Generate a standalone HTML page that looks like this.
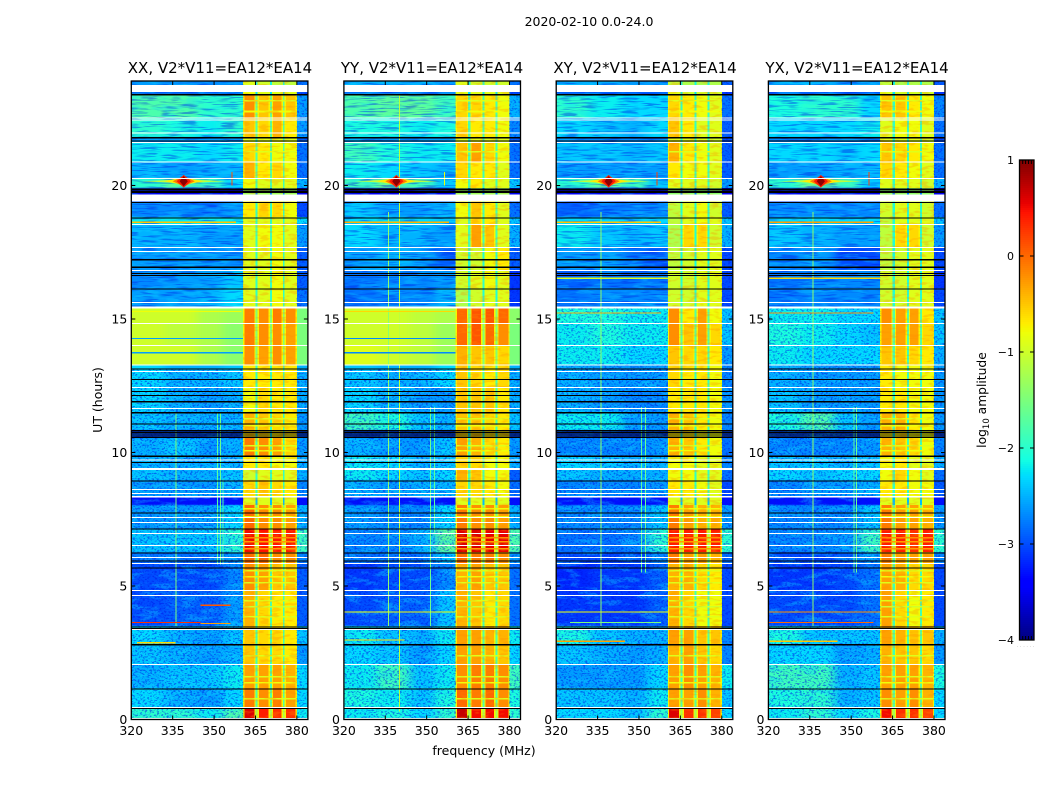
<!DOCTYPE html>
<html lang="en">
<head>
<meta charset="utf-8">
<title>2020-02-10 0.0-24.0 dynamic spectra</title>
<style>
html,body{margin:0;padding:0;background:#fff;width:1050px;height:800px;overflow:hidden}
svg{display:block}
text{font-family:"DejaVu Sans","Liberation Sans",sans-serif;fill:#000}
</style>
</head>
<body>
<svg id="figure" width="1050" height="800" viewBox="0 0 1050 800" xmlns="http://www.w3.org/2000/svg">
  <defs>
    <filter id="bgBlur" color-interpolation-filters="sRGB">
      <feGaussianBlur stdDeviation="5 0.4"/>
    </filter>
    <filter id="grainSpeckle" x="0" y="0" width="100%" height="100%" color-interpolation-filters="sRGB">
      <feTurbulence type="fractalNoise" baseFrequency="0.42 0.6" numOctaves="2" seed="7"/>
      <feColorMatrix type="matrix" values="0 0 0 0 0  0 0 0 0 0.08  0 0 0 0 0.9  7 0 0 0 -3.6"/>
    </filter>
    <filter id="grainStreak" x="0" y="0" width="100%" height="100%" color-interpolation-filters="sRGB">
      <feTurbulence type="fractalNoise" baseFrequency="0.05 0.7" numOctaves="2" seed="4"/>
      <feColorMatrix type="matrix" values="0 0 0 0 0  0 0 0 0 0.12  0 0 0 0 0.9  7 0 0 0 -3.6"/>
    </filter>
    <filter id="grainCyan" x="0" y="0" width="100%" height="100%" color-interpolation-filters="sRGB">
      <feTurbulence type="fractalNoise" baseFrequency="0.05 0.18" numOctaves="3" seed="21"/>
      <feColorMatrix type="matrix" values="0 0 0 0 0.05  0 0 0 0 0.85  0 0 0 0 1  6 0 0 0 -3"/>
    </filter>
    <filter id="grainWarm" x="0" y="0" width="100%" height="100%" color-interpolation-filters="sRGB">
      <feTurbulence type="fractalNoise" baseFrequency="0.1 0.35" numOctaves="2" seed="12"/>
      <feColorMatrix type="matrix" values="0 0 0 0 1  0 0 0 0 0.55  0 0 0 0 0  6 0 0 0 -3"/>
    </filter>
  </defs>

  <text x="589" y="26" font-size="12.5" text-anchor="middle">2020-02-10 0.0-24.0</text>

  <g id="panels"></g>

  <text x="220" y="73" font-size="15" text-anchor="middle">XX, V2*V11=EA12*EA14</text>
  <text x="432" y="73" font-size="15" text-anchor="middle">YY, V2*V11=EA12*EA14</text>
  <text x="645" y="73" font-size="15" text-anchor="middle">XY, V2*V11=EA12*EA14</text>
  <text x="857" y="73" font-size="15" text-anchor="middle">YX, V2*V11=EA12*EA14</text>

  <text x="484" y="755" font-size="12.5" text-anchor="middle">frequency (MHz)</text>
  <text x="102" y="400" font-size="12.5" text-anchor="middle" transform="rotate(-90 102 400)">UT (hours)</text>
  <text x="986" y="400" font-size="12.3" text-anchor="middle" transform="rotate(-90 986 400)">log<tspan font-size="8.5" dy="3">10</tspan><tspan dy="-3"> amplitude</tspan></text>

  <g id="colorbar"></g>
</svg>

<script>
// Frequency and time axes
const freqTicks = [320, 335, 350, 365, 380];
const hourTicks = [0, 5, 10, 15, 20];
const colorbarTicks = [1, 0, -1, -2, -3, -4];
const colorbarTickLabels = ['1', '0', '\u22121', '\u22122', '\u22123', '\u22124'];
const polarizations = ['xx', 'yy', 'xy', 'yx'];

// Channel groups in MHz; a row holds [bg1,bg2,bg3,bg4,block1,block2,block3,block4,gap,tail]
const freqEdges = [320, 332, 344, 353, 360.5, 365, 365.8, 370.2, 370.9, 374.9, 375.6, 380, 384];
const columnValueIndex = [0, 1, 2, 3, 4, 8, 5, 8, 6, 8, 7, 9];

// Time-band edges in UT hours, descending
const bandEdges = [23.91,23.76,23.5,23.43,22.53,21.82,21.59,20.88,20.28,19.91,19.68,19.4,18.82,18.54,17.7,16.84,16.16,15.45,14.85,14.03,13.28,12.42,11.52,10.84,10.54,9.87,9.38,8.97,8.33,8.03,7.13,6.27,5.86,4.85,3.5,2.83,2.08,1.18,0.43,0];

// log10 amplitude per time band
const levelsXX = [
[-2.6,-2.6,-2.7,-2.6,-1,-1.1,-1.2,-1.2,-1.9,-2.8],
[-2.6,-2.6,-2.7,-2.6,-1,-1.1,-1.2,-1.2,-1.9,-2.8],
[-2.9,-2.9,-2.9,-2.9,-0.9,-1,-1,-1,-2,-3],
[-1.8,-1.8,-2,-2,-0.3,-0.6,-0.4,-0.6,-1.4,-2.6],
[-2,-2.1,-2.2,-2,-0.6,-0.7,-0.5,-0.8,-1.5,-2.6],
[-2.6,-2.6,-2.6,-2.6,-1,-1,-1,-1,-1.8,-2.9],
[-2.2,-2.2,-2.3,-2.2,-0.7,-0.8,-0.9,-0.9,-1.5,-2.8],
[-2.5,-2.6,-2.5,-2.5,-0.5,-0.8,-0.7,-0.9,-1.5,-2.8],
[-2,-1.7,-1.9,-2.3,-0.9,-1,-1,-1,-1.6,-2.5],
[-3.5,-3.5,-3.5,-3.5,-1.4,-1.4,-1.4,-1.4,-2.5,-3.5],
[-3.5,-3.5,-3.5,-3.5,-1.4,-1.4,-1.4,-1.4,-2.5,-3.5],
[-2.7,-2.7,-2.8,-2.6,-0.8,-0.7,-0.7,-0.9,-1.7,-3],
[-2.2,-2.2,-2.2,-2.2,-1,-1,-1,-1,-1.7,-2.3],
[-2.5,-2.5,-2.6,-2.6,-1,-0.9,-0.9,-1,-1.6,-2.6],
[-2.6,-2.6,-2.6,-2.7,-1,-1,-0.9,-1,-1.7,-2.9],
[-2.7,-2.6,-2.6,-2.4,-1,-1,-0.9,-1,-1.7,-2.9],
[-2.6,-2.6,-2.5,-2.3,-1,-1,-0.9,-1,-1.7,-2.8],
[-1,-1,-1.2,-1.3,-0.2,-0.3,-0.2,-0.3,-1.2,-1.5],
[-1,-1.1,-1.2,-1.4,-0.2,-0.3,-0.3,-0.4,-1.2,-1.5],
[-1,-1,-1.2,-1.4,-0.3,-0.4,-0.3,-0.4,-1.2,-1.5],
[-2.3,-2.5,-2.5,-2.4,-0.8,-0.8,-0.8,-0.8,-1.7,-2.5],
[-2.3,-2.5,-2.6,-2.5,-0.9,-0.7,-0.8,-0.8,-1.7,-2.5],
[-2.4,-2.5,-2.5,-2.5,-0.5,-0.6,-0.7,-0.8,-1.7,-2.6],
[-3,-3,-3,-3,-0.7,-0.7,-0.8,-0.8,-2,-3],
[-2.5,-2.4,-2.6,-2.5,-0.2,-0.3,-0.4,-0.7,-1.6,-2.6],
[-2.5,-2.5,-2.5,-2.5,-0.8,-0.8,-0.9,-0.9,-1.6,-2.5],
[-2.4,-2.5,-2.5,-2.4,-1.1,-1,-1,-1,-1.7,-2.5],
[-2.6,-2.6,-2.6,-2.5,-0.7,-0.6,-0.7,-0.8,-1.7,-2.7],
[-3.3,-3.3,-3.3,-3.3,-1,-1,-1,-1,-2.2,-3.3],
[-2.6,-2.6,-2.6,-2.3,-0.1,-0.3,-0.3,-0.4,-1.3,-2.5],
[-2.4,-2.4,-2.4,-2,0.4,0.35,0.35,0.3,-1,-1.9],
[-2.8,-2.8,-2.8,-2.6,-0.1,-0.1,-0.3,-0.3,-1.5,-2.7],
[-3,-3,-3,-2.7,-0.3,-0.4,-0.6,-0.6,-1.6,-2.9],
[-3,-2.9,-2.9,-2.6,-0.5,-0.7,-0.8,-0.8,-1.6,-2.9],
[-2.3,-2.5,-2.6,-2.4,-0.6,-0.7,-0.7,-0.8,-1.6,-2.4],
[-2.4,-2.5,-2.6,-2.5,-0.6,-0.7,-0.7,-0.8,-1.6,-2.6],
[-2.5,-2.4,-2.4,-2.2,-0.4,-0.4,-0.4,-0.5,-1.6,-2.3],
[-2.3,-2.5,-2.6,-2.3,-0.2,-0.3,-0.2,-0.4,-1.5,-2.3],
[-2,-2,-2.2,-1.8,0.5,0.3,0.2,0.2,-1,-2.2]
];
const levelsYY = [
[-2.5,-2.5,-2.5,-2.6,-1,-1.1,-1.1,-1.1,-1.8,-2.8],
[-2.5,-2.5,-2.5,-2.6,-1,-1.1,-1.1,-1.1,-1.8,-2.8],
[-2.9,-2.9,-2.9,-2.9,-1,-1,-1,-1,-2,-3],
[-1.8,-1.7,-1.7,-1.9,-0.7,-0.7,-0.8,-0.9,-1.6,-2.5],
[-2.1,-2.1,-2.2,-2.1,-0.7,-0.8,-0.8,-0.9,-1.6,-2.7],
[-2.5,-2.6,-2.6,-2.6,-1,-1,-1,-1,-1.8,-2.9],
[-1.9,-2.1,-2.2,-2.2,-0.6,-0.4,-0.7,-0.9,-1.6,-2.8],
[-2.2,-2.3,-2.4,-2.5,-0.7,-0.8,-0.8,-1,-1.6,-2.8],
[-1.9,-1.6,-1.9,-2.4,-0.9,-0.8,-1,-1,-1.6,-2.4],
[-3.5,-3.5,-3.5,-3.5,-1.4,-1.4,-1.4,-1.4,-2.5,-3.5],
[-3.5,-3.5,-3.5,-3.5,-1.4,-1.4,-1.4,-1.4,-2.5,-3.5],
[-2.4,-2.6,-2.6,-2.5,-0.9,-0.6,-0.8,-1,-1.6,-2.8],
[-2.3,-2.2,-2.3,-2.4,-1,-0.7,-0.8,-1,-1.6,-2.4],
[-2.3,-2.5,-2.5,-2.6,-1,-0.4,-0.6,-1,-1.6,-2.5],
[-2.6,-2.5,-2.6,-2.9,-1.1,-1.1,-0.9,-0.8,-1.8,-2.9],
[-2.8,-2.7,-2.7,-2.6,-1.1,-1,-0.9,-1,-1.7,-3.1],
[-2.8,-2.7,-2.7,-2.5,-1.3,-1.1,-1,-1,-1.8,-3.1],
[-1,-1,-1.1,-1.2,-0.1,0,0,-0.1,-1.2,-1.4],
[-1,-1,-1.1,-1.3,-0.1,0,-0.1,-0.3,-1.2,-1.5],
[-0.9,-1,-1.1,-1.3,-0.5,-0.6,-0.6,-0.7,-1.2,-1.5],
[-2.4,-2.5,-2.5,-2.3,-0.6,-0.7,-0.8,-0.7,-1.6,-2.5],
[-2.3,-2.5,-2.6,-2.6,-0.6,-0.6,-0.6,-0.8,-1.6,-2.5],
[-1.9,-2.1,-2.4,-2.5,-0.6,-0.6,-0.7,-0.8,-1.6,-2.4],
[-3,-3,-3,-3,-0.7,-0.7,-0.8,-0.8,-2,-3],
[-2.5,-2.6,-2.6,-2.4,-0.4,-0.5,-0.7,-0.8,-1.6,-2.6],
[-2.2,-2.3,-2.5,-2.4,-0.7,-0.7,-0.9,-0.9,-1.6,-2.5],
[-2.2,-2.3,-2.4,-2.3,-0.5,-0.6,-0.9,-0.9,-1.6,-2.9],
[-2.5,-2.6,-2.5,-2.5,-0.7,-0.7,-0.8,-0.9,-1.6,-2.8],
[-3.3,-3.3,-3.3,-3.3,-1,-1,-1,-1,-2.2,-3.3],
[-2.6,-2.7,-2.7,-2.3,-0.2,-0.3,-0.3,-0.4,-1.3,-2.5],
[-2.7,-2.7,-2.5,-1.7,0.5,0.5,0.45,0.45,-1,-1.8],
[-2.8,-2.8,-2.8,-2.4,-0.1,-0.2,-0.2,-0.3,-1.5,-2.6],
[-3.1,-3,-3,-2.7,-0.5,-0.4,-0.6,-0.6,-1.6,-2.8],
[-3,-2.9,-2.9,-2.4,-0.5,-0.6,-0.8,-0.7,-1.6,-2.8],
[-2.2,-2.4,-2.5,-2.2,-0.4,-0.4,-0.5,-0.5,-1.5,-2.2],
[-2.3,-2.4,-2.6,-2.3,-0.4,-0.4,-0.5,-0.6,-1.6,-2.3],
[-2.2,-1.9,-2.4,-2.2,-0.3,-0.2,-0.2,-0.3,-1.5,-1.9],
[-2.1,-2.2,-2.4,-2.1,-0.1,-0.2,-0.1,-0.3,-1.5,-2.1],
[-2.2,-2.1,-2.3,-2,0.6,0.4,0.4,0.4,-1,-2]
];
const levelsXY = [
[-2.5,-2.5,-2.6,-2.6,-1.2,-1.3,-1.3,-1.3,-1.9,-2.9],
[-2.5,-2.5,-2.6,-2.6,-1.2,-1.3,-1.3,-1.3,-1.9,-2.9],
[-3,-3,-3,-3,-1,-1.1,-1.1,-1.1,-2,-3.1],
[-2,-2.2,-2.3,-2.3,-0.7,-0.8,-0.9,-1,-1.7,-2.8],
[-2.3,-2.4,-2.5,-2.3,-0.6,-0.8,-1,-1,-1.7,-2.9],
[-2.7,-2.7,-2.7,-2.7,-1,-1,-1,-1.1,-1.8,-3],
[-2.4,-2.4,-2.5,-2.4,-0.5,-0.8,-0.9,-1,-1.7,-2.9],
[-2.6,-2.6,-2.6,-2.6,-0.8,-0.9,-0.9,-1,-1.7,-2.9],
[-2,-1.7,-1.9,-2.4,-1,-1,-1,-1.1,-1.7,-2.6],
[-3.5,-3.5,-3.5,-3.5,-1.5,-1.5,-1.5,-1.5,-2.5,-3.5],
[-3.5,-3.5,-3.5,-3.5,-1.5,-1.5,-1.5,-1.5,-2.5,-3.5],
[-2.9,-2.8,-2.7,-2.7,-1.2,-1,-0.9,-1.1,-1.8,-2.9],
[-2.3,-2.3,-2.3,-2.3,-1.2,-1,-0.9,-1,-1.8,-2.4],
[-2.2,-2.4,-2.5,-2.4,-1.3,-0.7,-0.7,-1.1,-1.8,-2.5],
[-2.6,-2.6,-2.8,-2.9,-1.2,-1.1,-1,-1,-1.9,-3],
[-2.9,-2.8,-2.8,-2.8,-1.1,-1.1,-1,-1,-1.8,-3],
[-2.8,-2.7,-2.7,-2.7,-1.1,-1.1,-1,-1,-1.8,-3],
[-2.1,-2.1,-2.2,-2.2,-0.3,-0.8,-0.4,-0.9,-1.5,-2.4],
[-2.2,-2.1,-2.2,-2.2,-0.3,-0.6,-0.4,-0.7,-1.5,-2.4],
[-2.2,-2.2,-2.3,-2.3,-0.6,-0.7,-0.7,-0.8,-1.6,-2.6],
[-2.5,-2.6,-2.6,-2.6,-0.7,-0.8,-0.8,-0.9,-1.7,-2.7],
[-2.5,-2.6,-2.7,-2.7,-0.8,-0.8,-0.8,-0.9,-1.7,-2.6],
[-2.2,-2.2,-2.6,-2.6,-0.5,-0.6,-0.8,-0.9,-1.7,-2.7],
[-3,-3,-3,-3,-0.8,-0.8,-0.9,-0.9,-2,-3],
[-2.7,-2.7,-2.7,-2.6,-0.5,-0.6,-0.8,-0.9,-1.7,-2.8],
[-2.3,-2.4,-2.5,-2.5,-0.9,-0.9,-1,-1,-1.7,-2.7],
[-2.4,-2.5,-2.5,-2.5,-0.9,-0.9,-1,-1,-1.7,-2.8],
[-2.7,-2.7,-2.7,-2.6,-0.8,-0.8,-0.9,-1,-1.7,-3],
[-3.3,-3.3,-3.3,-3.3,-1,-1,-1,-1,-2.2,-3.3],
[-2.7,-2.7,-2.7,-2.4,-0.2,-0.4,-0.5,-0.5,-1.4,-2.6],
[-2.8,-2.8,-2.7,-2,0.3,0.3,0.3,0.3,-1,-2],
[-3,-3,-3,-2.7,-0.2,-0.4,-0.4,-0.5,-1.5,-2.8],
[-3.2,-3.1,-3.1,-2.9,-0.5,-0.5,-0.7,-0.8,-1.6,-3],
[-3.1,-3.1,-3.1,-2.9,-0.5,-0.7,-0.9,-0.9,-1.6,-3],
[-2.1,-2.4,-2.5,-2.5,-0.4,-0.4,-0.6,-0.6,-1.5,-2.7],
[-2.4,-2.5,-2.6,-2.5,-0.5,-0.4,-0.6,-0.7,-1.6,-2.7],
[-2.6,-2.6,-2.6,-2.3,-0.4,-0.3,-0.4,-0.5,-1.6,-2.2],
[-2.4,-2.4,-2.5,-2.2,-0.4,-0.4,-0.3,-0.5,-1.5,-2.4],
[-2.3,-2.3,-2.4,-2,0.5,0.2,0.2,0.1,-1,-2.3]
];
const levelsYX = [
[-2.5,-2.5,-2.6,-2.6,-1.2,-1.3,-1.3,-1.3,-1.9,-2.9],
[-2.5,-2.5,-2.6,-2.6,-1.2,-1.3,-1.3,-1.3,-1.9,-2.9],
[-3,-3,-3,-3,-1,-1.1,-1.1,-1.1,-2,-3.1],
[-2.1,-2,-2,-2.3,-0.6,-0.6,-0.8,-0.9,-1.7,-2.7],
[-2.3,-2.3,-2.3,-2.2,-1,-0.9,-0.9,-1,-1.7,-2.8],
[-2.7,-2.7,-2.7,-2.7,-1,-1,-1,-1.1,-1.8,-3],
[-2.3,-2.3,-2.4,-2.3,-0.6,-0.7,-0.8,-0.9,-1.7,-2.8],
[-2.6,-2.6,-2.5,-2.5,-0.7,-0.8,-0.9,-1,-1.7,-2.8],
[-2,-1.6,-1.9,-2.4,-1,-1,-1,-1.1,-1.7,-2.5],
[-3.5,-3.5,-3.5,-3.5,-1.5,-1.5,-1.5,-1.5,-2.5,-3.5],
[-3.5,-3.5,-3.5,-3.5,-1.5,-1.5,-1.5,-1.5,-2.5,-3.5],
[-2.7,-2.7,-2.7,-2.7,-1.1,-1,-1,-1.1,-1.8,-2.8],
[-2.3,-2.3,-2.3,-2.3,-1.2,-1,-1,-1,-1.8,-2.4],
[-2.4,-2.5,-2.6,-2.6,-1.2,-0.7,-0.7,-1.1,-1.8,-2.6],
[-2.7,-2.6,-3,-3,-1.2,-1.1,-1,-1,-1.9,-3],
[-2.8,-2.7,-2.7,-2.7,-1.1,-1.1,-1,-1,-1.8,-3.1],
[-2.8,-2.7,-2.7,-2.7,-1.1,-1.1,-1,-1,-1.8,-3],
[-2.2,-2.2,-2.3,-2.3,-0.3,-0.4,-0.4,-0.8,-1.5,-2.4],
[-2.1,-2.2,-2.3,-2.4,-0.4,-0.4,-0.4,-0.7,-1.5,-2.4],
[-2.2,-2.3,-2.3,-2.3,-0.6,-0.6,-0.7,-0.8,-1.6,-2.5],
[-2.5,-2.6,-2.6,-2.6,-0.8,-0.9,-0.9,-0.9,-1.7,-2.6],
[-2.4,-2.6,-2.6,-2.6,-0.8,-0.8,-0.9,-0.9,-1.7,-2.6],
[-2.1,-1.8,-2.4,-2.6,-0.5,-0.5,-0.8,-0.9,-1.7,-2.6],
[-3,-3,-3,-3,-0.8,-0.8,-0.9,-0.9,-2,-3],
[-2.7,-2.7,-2.7,-2.6,-0.5,-0.6,-0.7,-0.9,-1.6,-2.7],
[-2.4,-2.4,-2.5,-2.4,-0.9,-0.8,-1,-1,-1.7,-2.5],
[-2.3,-2.4,-2.3,-2.3,-0.9,-0.7,-0.9,-1,-1.7,-2.8],
[-2.7,-2.6,-2.6,-2.5,-0.8,-0.8,-0.9,-0.9,-1.7,-2.9],
[-3.3,-3.3,-3.3,-3.3,-1,-1,-1,-1,-2.2,-3.3],
[-2.7,-2.7,-2.7,-2.4,-0.2,-0.4,-0.4,-0.5,-1.4,-2.6],
[-2.7,-2.7,-2.6,-1.9,0.3,0.3,0.2,0.3,-1,-2],
[-3,-3,-2.9,-2.6,-0.2,-0.4,-0.4,-0.4,-1.5,-2.7],
[-3.1,-3.1,-3,-2.8,-0.4,-0.5,-0.7,-0.7,-1.6,-3],
[-3,-3,-3,-2.8,-0.4,-0.7,-0.9,-0.8,-1.6,-3],
[-2.1,-2.4,-2.4,-2.4,-0.4,-0.5,-0.6,-0.6,-1.5,-2.5],
[-2.3,-2.3,-2.6,-2.5,-0.5,-0.6,-0.6,-0.7,-1.6,-2.6],
[-1.9,-1.9,-2.5,-2.4,-0.4,-0.4,-0.4,-0.5,-1.5,-2.1],
[-2.1,-2,-2.5,-2.4,-0.3,-0.4,-0.3,-0.5,-1.5,-2.3],
[-2.2,-2,-2.3,-2.1,0.4,0.2,0.2,0.1,-1,-2.3]
];

// Flagged data: UT-hour spans with no data, and single rows of zeros
const noDataSpans = [[23.76,23.51],[22.55,22.51],[22.48,22.44],[21.98,21.94],[21.63,21.59],[20.9,20.86],[20.28,20.24],[19.66,19.41],[18.56,18.52],[17.7,17.66],[17.55,17.51],[16.84,16.8],[15.64,15.6],[15.47,15.39],[14.85,14.81],[14.03,13.99],[13.3,13.26],[13.05,13.01],[12.45,12.42],[11.67,11.63],[9.74,9.7],[9.42,9.34],[8.63,8.6],[8.48,8.45],[8.37,8.31],[7.58,7.55],[7.4,7.36],[6.99,6.95],[6.54,6.5],[6.09,6.05],[5.86,5.82],[4.85,4.81],[4.66,4.63],[3.39,3.35],[2.08,2.04],[0.47,0.43],[0.06,0.02]];
const zeroRows = [23.42,21.81,21.68,19.89,19.85,19.8,19.76,19.39,18.81,17.24,16.96,16.72,16.65,16.15,13.15,12.75,12.31,12.16,11.92,11.51,11.09,10.84,10.78,10.72,10.64,10.58,9.88,9.64,8.96,7.76,7.15,6.26,5.95,5.7,3.48,3.43,2.82,1.17,0.43];

// Narrow-band interference: [panel, UT hour, start MHz, end MHz, log10 amplitude]
const rfiRows = [
[0,18.65,320,358,-0.5],[0,15.3,320,360,-0.8],[0,14.29,320,360.5,-2.6],[0,13.76,320,360.5,-2.6],[0,3.65,320,345,0.3],[0,3.62,345,356,-0.3],[0,4.3,345,356,0.1],[0,2.9,322,336,-0.6],
[1,18.65,320,358,-0.4],[1,15.3,320,360,-0.6],[1,14.29,320,360.5,-2.7],[1,13.76,320,360.5,-2.7],[1,4.05,320,360.5,-0.8],[1,3.0,320,342,-0.6],
[2,18.65,320,358,-0.5],[2,16.55,320,360.5,-0.9],[2,15.25,320,358,-0.4],[2,4.05,320,360.5,-0.8],[2,3.65,325,358,-1.5],[2,2.95,320,345,-0.3],
[3,18.65,320,358,-0.3],[3,16.55,320,360.5,-0.6],[3,15.25,320,358,-0.2],[3,4.05,320,360.5,-0.2],[3,3.65,320,358,0],[3,2.95,320,345,-0.5]
];
// Narrow-band interference: [panel, MHz, start hour, end hour, log10 amplitude]
const rfiColumns = [
[0,356.3,20,20.5,0.1],[0,336,3.5,11.5,-1.5],[0,351,5.8,11.5,-1.7],[0,352.2,5.8,11.5,-1.6],[0,353,5.8,9,-1.8],
[1,340,0.3,23.4,-1.1],[1,336,3.5,19,-1.4],[1,356.3,20,20.5,-0.8],[1,351.2,3.5,11.7,-1.6],[1,352.6,7,11.7,-1.7],
[2,336,3.5,19,-1.4],[2,356.3,20,20.5,0.2],[2,350.8,5.5,11.7,-1.7],[2,352.2,5.5,11.7,-1.6],
[3,336,3.5,19,-1.4],[3,356.3,20,20.5,0.2],[3,350.8,5.5,11.7,-1.7],[3,351.8,5.5,11.7,-1.6]
];
// Striations across the bright band: UT hours and log10 amplitude
const bandStripeHours = [23.2,22.8,21.3,11.29,11.03,10.28,10.09,7.92,7.62,6.84,6.69,6.42,5.6,5.37,5.15,4.48,4.25,3.88,2.42,1.63,1.4,0.81];
const bandStripeLevels = [-0.9,-0.8,-0.9,-0.9,-0.8,-0.9,-0.8,-0.8,-0.8,-0.2,-0.3,-0.3,-0.9,-0.8,-0.9,-0.9,-1,-0.9,-0.9,-0.9,-0.8,-0.9];

// Strong burst near 339 MHz, 20.16 UT: halo half-widths (MHz), half-heights (hours), levels
const burstFreq = 339;
const burstHour = 20.16;
const burstHalfWidths = [15, 7, 4, 2.6, 1.5];
const burstHalfHeights = [0.07, 0.14, 0.2, 0.24, 0.19];
const burstLevels = [-1.1, -0.7, -0.1, 0.4, 0.95];

const levelsByPanel = [levelsXX, levelsYY, levelsXY, levelsYX];

/* ---------- scales & colour ---------- */
const axesLefts = [131.3, 343.9, 556.2, 768.4];
const axesWidth = 176.6;
const axesTop = 81;
const axesBottom = 719.5;
const pixelsPerHour = 26.7;
const blockBias = 0.1;
const gapBias = -0.25;
const NS = 'http://www.w3.org/2000/svg';

function xScale(panel, mhz) { return axesLefts[panel] + (mhz - 320) / 64 * axesWidth; }
function yScale(hour) { return axesBottom - hour * pixelsPerHour; }

function ramp(t, pts) {
  for (let i = 1; i < pts.length; i++) {
    if (t <= pts[i][0]) {
      const a = pts[i - 1], b = pts[i];
      return a[1] + (b[1] - a[1]) * (t - a[0]) / (b[0] - a[0]);
    }
  }
  return pts[pts.length - 1][1];
}
function jet(v) {
  const t = Math.min(1, Math.max(0, (v + 4) / 5));
  const r = ramp(t, [[0,0],[0.35,0],[0.66,1],[0.89,1],[1,0.5]]);
  const g = ramp(t, [[0,0],[0.125,0],[0.375,1],[0.64,1],[0.91,0],[1,0]]);
  const b = ramp(t, [[0,0.5],[0.11,1],[0.34,1],[0.65,0],[1,0]]);
  return 'rgb(' + Math.round(r * 255) + ',' + Math.round(g * 255) + ',' + Math.round(b * 255) + ')';
}
function make(tag, parent) {
  const el = document.createElementNS(NS, tag);
  parent.appendChild(el);
  return el;
}
function rect(parent, x, y, w, h, fill) {
  const el = make('rect', parent);
  el.setAttribute('x', x.toFixed(2));
  el.setAttribute('y', y.toFixed(2));
  el.setAttribute('width', Math.max(0, w).toFixed(2));
  el.setAttribute('height', Math.max(0, h).toFixed(2));
  el.setAttribute('fill', fill);
  el.setAttribute('shape-rendering', 'crispEdges');
  return el;
}
function line(parent, x1, y1, x2, y2, width) {
  const el = make('line', parent);
  el.setAttribute('x1', x1.toFixed(2));
  el.setAttribute('y1', y1.toFixed(2));
  el.setAttribute('x2', x2.toFixed(2));
  el.setAttribute('y2', y2.toFixed(2));
  el.setAttribute('stroke', '#000');
  el.setAttribute('stroke-width', width);
  return el;
}

/* ---------- panels ---------- */
const panelsRoot = document.getElementById('panels');
const defsEl = document.querySelector('#figure defs');
polarizations.forEach(function (pol, p) {
  const g = make('g', panelsRoot);
  
  

  const bgX = xScale(p, 320);
  const bgW = xScale(p, 360.5) - bgX;
  const tailX = xScale(p, 380);
  const tailW = xScale(p, 384) - tailX;
  const blockX = xScale(p, 360.5);
  const blockW = xScale(p, 380) - blockX;

  // smoothed band-off channels, clipped so the blur never fades at the edges
  const clip = make('clipPath', defsEl);
  clip.setAttribute('id', 'bg-clip-' + pol);
  rect(clip, bgX, axesTop, bgW, axesBottom - axesTop, '#000');
  const bgClip = make('g', g);
  bgClip.setAttribute('clip-path', 'url(#bg-clip-' + pol + ')');
  
  
  const bgBlur = make('g', bgClip);
  bgBlur.setAttribute('filter', 'url(#bgBlur)');

  const rows = levelsByPanel[p];
  rows.forEach(function (row, b) {
    const y0 = yScale(bandEdges[b]);
    const y1 = yScale(bandEdges[b + 1]);
    columnValueIndex.forEach(function (vi, c) {
      let x0 = xScale(p, freqEdges[c]);
      let x1 = xScale(p, freqEdges[c + 1]);
      if (c < 4) {
        // only the blurred channels bleed past the axes; the clip path trims them
        const by0 = b === 0 ? y0 - 6 : y0;
        const by1 = b === rows.length - 1 ? y1 + 6 : y1;
        if (c === 0) { x0 -= 30; }
        if (c === 3) { x1 += 30; }
        const bgCell = rect(bgBlur, x0, by0, x1 - x0, by1 - by0, jet(row[vi]));
        
        
      } else if (vi >= 4 && vi <= 7) {
        const v = row[vi] + blockBias;
        const rim = rect(g, x0, y0, x1 - x0, y1 - y0, jet(Math.min(v, -0.75)));
        
        
        const core = rect(g, x0 + 1.2, y0, x1 - x0 - 2.4, y1 - y0, jet(v));
        
        
      } else {
        const v = vi === 8 ? row[vi] + gapBias : row[vi];
        const cell = rect(g, x0, y0, x1 - x0, y1 - y0, jet(v));
        
        
      }
    });
  });

  // stripes across the bright band
  bandStripeHours.forEach(function (h, i) {
    const s = rect(g, blockX, yScale(h), blockW, 1.6, jet(bandStripeLevels[i]));
    
    
  });

  // speckle texture: streaky above the quiet block, point-like below it
  const topY = axesTop;
  const quietTop = yScale(15.45);
  const quietBottom = yScale(13.1);
  const quiet = p < 2;
  const texture = [
    [bgX, topY, bgW, quietTop - topY, 'grainCyan', 0.3],
    [bgX, topY, bgW, quietTop - topY, 'grainStreak', 0.42],
    [bgX, quietBottom, bgW, axesBottom - quietBottom, 'grainCyan', 0.35],
    [bgX, quietBottom, bgW, axesBottom - quietBottom, 'grainSpeckle', 0.5],
    [tailX, topY, tailW, quietTop - topY, 'grainSpeckle', 0.45],
    [tailX, quietBottom, tailW, axesBottom - quietBottom, 'grainSpeckle', 0.45],
    [blockX, topY, blockW, axesBottom - topY, 'grainWarm', 0.3]
  ];
  if (!quiet) {
    texture.push([bgX, quietTop, bgW, quietBottom - quietTop, 'grainSpeckle', 0.45]);
    texture.push([tailX, quietTop, tailW, quietBottom - quietTop, 'grainSpeckle', 0.45]);
  }
  texture.forEach(function (o) {
    const tex = rect(g, o[0], o[1], o[2], o[3], '#000');
    tex.setAttribute('filter', 'url(#' + o[4] + ')');
    tex.setAttribute('opacity', o[5]);
    
    
  });

  // interference columns and rows
  rfiColumns.filter(function (r) { return r[0] === p; }).forEach(function (r) {
    const m = rect(g, xScale(p, r[1]), yScale(r[3]), 1, yScale(r[2]) - yScale(r[3]), jet(r[4]));
    
    
  });
  rfiRows.filter(function (r) { return r[0] === p; }).forEach(function (r) {
    const m = rect(g, xScale(p, r[2]), yScale(r[1]), xScale(p, r[3]) - xScale(p, r[2]), 1.2, jet(r[4]));
    
    
  });

  // burst
  burstLevels.forEach(function (lvl, k) {
    const cx = xScale(p, burstFreq);
    const cy = yScale(burstHour);
    const hw = burstHalfWidths[k] / 64 * axesWidth;
    const hh = burstHalfHeights[k] * pixelsPerHour;
    const poly = make('polygon', g);
    poly.setAttribute('points', (cx - hw) + ',' + cy + ' ' + cx + ',' + (cy - hh) + ' ' + (cx + hw) + ',' + cy + ' ' + cx + ',' + (cy + hh));
    poly.setAttribute('fill', jet(lvl));
    
    
  });

  // flagged data
  noDataSpans.forEach(function (s) {
    const m = rect(g, axesLefts[p], yScale(s[0]), axesWidth, yScale(s[1]) - yScale(s[0]), '#fff');
    
    
  });
  zeroRows.forEach(function (h) {
    const m = rect(g, axesLefts[p], yScale(h), axesWidth, 1.1, '#000');
    
    
  });

  // frame
  const frame = make('rect', g);
  frame.setAttribute('x', axesLefts[p]);
  frame.setAttribute('y', axesTop);
  frame.setAttribute('width', axesWidth);
  frame.setAttribute('height', axesBottom - axesTop);
  frame.setAttribute('fill', 'none');
  frame.setAttribute('stroke', '#000');
  frame.setAttribute('stroke-width', '1.3');
  
  

  // x ticks
  freqTicks.forEach(function (f) {
    const x = xScale(p, f);
    const t1 = line(g, x, axesBottom, x, axesBottom - 4, 1);
    
    
    const t2 = line(g, x, axesTop, x, axesTop + 4, 1);
    
    
    const label = make('text', g);
    label.setAttribute('x', x);
    label.setAttribute('y', 735);
    label.setAttribute('font-size', '12.5');
    label.setAttribute('text-anchor', 'middle');
    
    
    label.textContent = String(f);
  });

  // y ticks
  hourTicks.forEach(function (h) {
    const y = yScale(h);
    const t1 = line(g, axesLefts[p], y, axesLefts[p] + 4, y, 1);
    
    
    const t2 = line(g, axesLefts[p] + axesWidth, y, axesLefts[p] + axesWidth - 4, y, 1);
    
    
    const label = make('text', g);
    label.setAttribute('x', axesLefts[p] - 4);
    label.setAttribute('y', y + 4.5);
    label.setAttribute('font-size', '12.5');
    label.setAttribute('text-anchor', 'end');
    
    
    label.textContent = String(h);
  });
});

/* ---------- colorbar ---------- */
const cb = document.getElementById('colorbar');
const cbLeft = 1019.5, cbRight = 1034, cbTop = 160, cbBottom = 640;
function cbY(v) { return cbTop + (1 - v) / 5 * (cbBottom - cbTop); }
for (let py = cbTop; py < cbBottom; py += 2) {
  const v = 1 - (py + 1 - cbTop) / (cbBottom - cbTop) * 5;
  const swatch = rect(cb, cbLeft, py, cbRight - cbLeft, 2, jet(v));
  
  
}
const cbFrame = make('rect', cb);
cbFrame.setAttribute('x', cbLeft);
cbFrame.setAttribute('y', cbTop);
cbFrame.setAttribute('width', cbRight - cbLeft);
cbFrame.setAttribute('height', cbBottom - cbTop);
cbFrame.setAttribute('fill', 'none');
cbFrame.setAttribute('stroke', '#000');
cbFrame.setAttribute('stroke-width', '1.3');



colorbarTicks.forEach(function (v, i) {
  const y = cbY(v);
  const a = line(cb, cbLeft, y, cbLeft + 4, y, 1);
  
  
  const b = line(cb, cbRight, y, cbRight - 4, y, 1);
  
  
  const label = make('text', cb);
  label.setAttribute('x', 1014);
  label.setAttribute('y', y + 4);
  label.setAttribute('font-size', '11');
  label.setAttribute('text-anchor', 'end');
  
  
  label.textContent = colorbarTickLabels[i];
});
for (let k = 1; k < 5; k++) {
  const x = cbLeft + k * (cbRight - cbLeft) / 5 + 0.3;
  const top = line(cb, x, cbTop, x, cbTop + 4, 1);
  
  
  const bottom = line(cb, x, cbBottom, x, cbBottom - 4, 1);
  
  
}
const dots = make('text', cb);
dots.setAttribute('x', 1017);
dots.setAttribute('y', 647);
dots.setAttribute('font-size', '4');
dots.setAttribute('letter-spacing', '1.9');
dots.setAttribute('style', 'fill:#777');


dots.textContent = '......';
</script>
</body>
</html>
